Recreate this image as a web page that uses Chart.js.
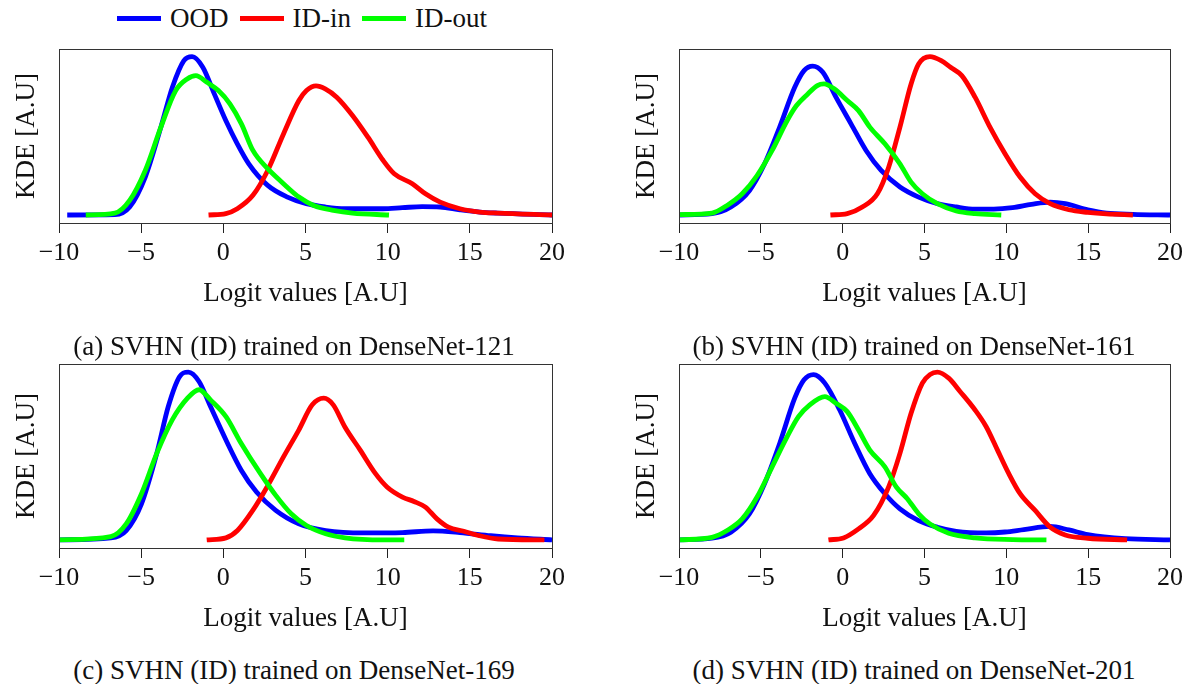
<!DOCTYPE html>
<html><head><meta charset="utf-8">
<script src="https://cdn.jsdelivr.net/npm/chart.js@4.4.1/dist/chart.umd.min.js"></script>
<style>
body{margin:0;background:#fff;width:1190px;height:684px;overflow:hidden;position:relative;font-family:'Liberation Serif',serif;color:#111}
canvas{position:absolute}
.cap{position:absolute;text-align:center;font-size:27px;line-height:30px;white-space:nowrap;width:600px}
#legend{position:absolute;left:117px;top:3px;display:flex;align-items:center;font-size:27px;line-height:30px;white-space:nowrap}
.sw{width:44px;height:5px;margin-right:9px}
.lt{margin-right:11px}
</style></head><body>
<div id="legend"></div>
<canvas id="ca" width="600" height="320" style="left:0;top:0"></canvas>
<canvas id="cb" width="570" height="320" style="left:620px;top:0"></canvas>
<canvas id="cc" width="600" height="330" style="left:0;top:315px"></canvas>
<canvas id="cd" width="570" height="330" style="left:620px;top:315px"></canvas>
<div class="cap" id="capa" style="left:-6px;top:331px"></div>
<div class="cap" id="capb" style="left:614px;top:331px"></div>
<div class="cap" id="capc" style="left:-6px;top:655px"></div>
<div class="cap" id="capd" style="left:614px;top:655px"></div>
<script>
const FONT = "'Liberation Serif', serif";
const xTickValues = [-10, -5, 0, 5, 10, 15, 20];
const xTickLabels = ['\u221210', '\u22125', '0', '5', '10', '15', '20'];
const seriesNames = ['OOD', 'ID-in', 'ID-out'];
const seriesColors = ['#0000ff', '#ff0000', '#00ff00'];
const xTitle = 'Logit values [A.U]';
const yTitle = 'KDE [A.U]';
const captions = [
  '(a) SVHN (ID) trained on DenseNet-121',
  '(b) SVHN (ID) trained on DenseNet-161',
  '(c) SVHN (ID) trained on DenseNet-169',
  '(d) SVHN (ID) trained on DenseNet-201'
];

// (a) DenseNet-121
const a_ood_x = [-9.5, -6.6, -5.7, -4.75, -3.8, -3.1, -2.4, -1.9, -1.25, -0.55, 0.15, 0.85, 1.55, 2.7, 3.9, 5.05, 6.2, 7.4, 9.7, 10.9, 12.1, 13.2, 14.4, 15.6, 16.7, 20];
const a_ood_y = [4.6, 4.8, 9.2, 26.4, 55.1, 78.0, 93.3, 95.6, 89.5, 74.2, 58.9, 45.5, 34.0, 21.6, 14.9, 11.1, 9.2, 8.2, 8.2, 8.8, 9.4, 9.2, 7.6, 6.3, 5.7, 4.6];
const a_in_x = [-0.9, 0.15, 0.85, 1.8, 2.7, 3.66, 4.6, 5.06, 5.64, 6.2, 6.9, 7.86, 8.8, 9.73, 10.4, 11.5, 12.3, 13.2, 14.4, 15.6, 16.7, 20];
const a_in_y = [4.6, 5.4, 8.2, 15.9, 30.2, 51.2, 70.4, 76.1, 78.8, 77.1, 72.3, 61.8, 49.3, 35.9, 28.3, 22.6, 16.8, 12.0, 8.2, 6.3, 5.7, 4.6];
const a_out_x = [-8.37, -6.6, -5.7, -4.75, -3.8, -2.9, -2.2, -1.67, -1.0, -0.3, 0.4, 1.1, 1.8, 2.7, 3.66, 4.6, 5.5, 6.7, 7.86, 10.08];
const a_out_y = [4.6, 5.7, 13.0, 30.2, 55.1, 76.1, 82.8, 84.7, 80.9, 76.1, 68.5, 57.0, 41.7, 31.2, 22.6, 14.9, 10.1, 7.3, 5.7, 4.6];

// (b) DenseNet-161
const b_ood_x = [-10, -7.98, -6.83, -5.69, -4.77, -3.85, -2.93, -2.36, -1.83, -1.21, -0.41, 0.51, 1.43, 2.35, 3.5, 4.64, 5.79, 6.94, 8.09, 9.23, 10.38, 11.53, 12.68, 13.6, 14.98, 16.12, 17.73, 20];
const b_ood_y = [4.6, 5.4, 9.2, 18.7, 34.0, 55.1, 78.0, 87.6, 90.2, 86.6, 72.3, 57.0, 41.7, 30.2, 20.7, 14.9, 11.1, 9.2, 8.0, 8.0, 8.8, 10.7, 12.0, 11.1, 7.6, 5.7, 5.0, 4.6];
const b_in_x = [-0.75, 0.28, 1.2, 2.12, 2.81, 3.5, 4.18, 4.64, 5.33, 6.02, 6.59, 7.28, 8.09, 9.0, 9.92, 10.84, 11.76, 12.68, 13.82, 14.97, 16.12, 17.73];
const b_in_y = [4.6, 5.4, 9.2, 16.8, 32.1, 55.1, 79.9, 91.4, 95.6, 93.3, 89.5, 84.7, 72.3, 55.1, 39.8, 26.4, 16.8, 11.1, 7.6, 6.1, 5.2, 4.6];
const b_out_x = [-10, -7.98, -7.06, -6.14, -5.23, -4.31, -3.39, -2.82, -2.13, -1.55, -1.14, -0.52, 0.28, 0.97, 1.66, 2.58, 3.5, 4.18, 4.87, 5.79, 6.94, 8.09, 9.69];
const b_out_y = [4.8, 5.7, 10.1, 16.8, 27.3, 41.7, 58.9, 67.5, 74.2, 79.0, 79.9, 77.1, 70.4, 64.6, 55.1, 45.5, 34.0, 23.5, 16.8, 11.1, 6.9, 5.4, 4.6];

// (c) DenseNet-169
const c_ood_x = [-10, -6.85, -5.91, -4.98, -4.05, -3.35, -2.65, -2.13, -1.48, -0.78, 0.16, 1.09, 2.02, 3.19, 4.59, 6.23, 8.56, 10.9, 12.76, 14.4, 16.27, 17.9, 20];
const c_ood_y = [4.4, 5.5, 9.5, 24.0, 51.4, 76.9, 93.3, 95.6, 90.5, 76.9, 58.7, 42.3, 30.4, 20.4, 13.1, 9.5, 8.2, 8.4, 9.3, 8.4, 6.7, 5.5, 4.4];
const c_in_x = [-1.01, 0.16, 0.86, 1.79, 2.72, 3.66, 4.59, 5.41, 6.11, 6.69, 7.39, 8.33, 9.26, 9.96, 10.9, 11.6, 12.3, 13.0, 13.7, 14.63, 15.57, 16.73, 19.54];
const c_in_y = [4.4, 5.5, 9.5, 20.4, 34.1, 49.5, 64.1, 77.8, 81.4, 77.8, 65.9, 53.2, 40.4, 33.2, 27.7, 25.3, 22.2, 15.8, 11.3, 9.1, 6.7, 4.9, 4.4];
const c_out_x = [-10, -6.85, -5.91, -4.98, -4.05, -3.11, -2.18, -1.48, -0.78, 0.16, 1.09, 2.26, 3.19, 4.13, 5.06, 6.23, 7.4, 9.73, 11.01];
const c_out_y = [4.4, 6.2, 13.1, 29.5, 51.4, 69.6, 81.4, 86.0, 80.5, 71.4, 56.8, 40.4, 28.6, 18.6, 12.2, 7.7, 5.5, 4.4, 4.4];

// (d) DenseNet-201
const d_ood_x = [-10, -7.98, -6.83, -5.69, -4.77, -3.85, -2.93, -2.36, -1.78, -1.09, -0.18, 0.74, 1.66, 2.58, 3.5, 4.64, 5.79, 6.94, 8.77, 9.92, 11.07, 12.68, 13.82, 14.98, 17.27, 20];
const d_ood_y = [4.4, 5.3, 8.6, 18.6, 35.0, 56.8, 81.4, 91.4, 94.2, 89.6, 75.0, 56.8, 40.4, 29.5, 21.3, 14.9, 11.3, 9.1, 8.2, 8.7, 10.0, 11.7, 9.8, 7.3, 5.1, 4.4];
const d_in_x = [-0.87, 0.05, 0.97, 1.89, 2.81, 3.5, 4.18, 4.87, 5.33, 5.79, 6.48, 7.17, 8.09, 8.77, 9.46, 10.15, 10.84, 11.76, 12.68, 13.6, 14.98, 17.38];
const d_in_y = [4.4, 5.5, 10.4, 17.7, 33.2, 51.4, 73.2, 89.6, 94.2, 95.6, 92.3, 85.1, 75.0, 65.9, 53.2, 40.4, 29.5, 20.4, 11.3, 7.1, 5.3, 4.4];
const d_out_x = [-10, -7.98, -7.06, -6.14, -5.23, -4.31, -3.39, -2.7, -2.01, -1.09, -0.41, 0.28, 0.97, 1.66, 2.58, 3.27, 3.95, 4.64, 5.33, 6.48, 8.09, 10.38, 12.45];
const d_out_y = [4.4, 5.8, 9.5, 15.8, 27.7, 44.1, 60.5, 71.4, 77.8, 82.3, 78.7, 74.1, 64.1, 53.2, 44.1, 33.2, 26.8, 18.6, 13.1, 8.0, 5.5, 4.6, 4.4];

function pts(xs, ys) { return xs.map((x, i) => ({ x: x, y: ys[i] })); }

const framePlugin = {
  id: 'frame',
  afterDatasetsDraw(chart) {
    const { ctx, chartArea } = chart;
    ctx.save();
    ctx.strokeStyle = '#333';
    ctx.lineWidth = 1;
    ctx.strokeRect(Math.round(chartArea.left) + 0.5, Math.round(chartArea.top) + 0.5,
      Math.round(chartArea.right - chartArea.left), Math.round(chartArea.bottom - chartArea.top));
    ctx.restore();
  }
};

function makeChart(id, sets, padTop, padRight) {
  return new Chart(document.getElementById(id), {
    type: 'line',
    data: {
      datasets: sets.map((s, i) => ({
        label: seriesNames[i],
        data: pts(s[0], s[1]),
        borderColor: seriesColors[i],
        backgroundColor: seriesColors[i],
        borderWidth: 4.8,
        pointRadius: 0,
        fill: false,
        cubicInterpolationMode: 'monotone',
        borderJoinStyle: 'round',
        order: 3 - i
      }))
    },
    options: {
      responsive: false, animation: false, devicePixelRatio: 1,
      layout: { padding: { top: padTop, right: padRight, left: 0, bottom: 0 } },
      plugins: { legend: { display: false }, tooltip: { enabled: false } },
      scales: {
        x: {
          type: 'linear', min: -10, max: 20,
          afterBuildTicks: s => { s.ticks = xTickValues.map(v => ({ value: v })); },
          ticks: { callback: (v, i) => xTickLabels[i], font: { family: FONT, size: 26, lineHeight: 1 }, color: '#111', padding: 7, maxRotation: 0, autoSkip: false },
          grid: { drawOnChartArea: false, drawTicks: true, tickLength: 10, color: '#222', lineWidth: 1 },
          border: { display: false },
          title: { display: true, text: xTitle, font: { family: FONT, size: 27, lineHeight: 1 }, color: '#111', padding: { top: 0, bottom: 13 } },
          afterFit: s => { s.height = 97; }
        },
        y: {
          min: 0, max: 100,
          ticks: { display: false },
          grid: { display: false },
          border: { display: false },
          title: { display: true, text: yTitle, font: { family: FONT, size: 27, lineHeight: 1 }, color: '#111', padding: { top: 13, bottom: 0 } },
          afterFit: s => { s.width = 59; }
        }
      }
    },
    plugins: [framePlugin]
  });
}

makeChart('ca', [[a_ood_x, a_ood_y], [a_in_x, a_in_y], [a_out_x, a_out_y]], 49, 48);
makeChart('cb', [[b_ood_x, b_ood_y], [b_in_x, b_in_y], [b_out_x, b_out_y]], 49, 18);
makeChart('cc', [[c_ood_x, c_ood_y], [c_in_x, c_in_y], [c_out_x, c_out_y]], 49, 48);
makeChart('cd', [[d_ood_x, d_ood_y], [d_in_x, d_in_y], [d_out_x, d_out_y]], 49, 18);

['capa', 'capb', 'capc', 'capd'].forEach((id, i) => { document.getElementById(id).textContent = captions[i]; });

const leg = document.getElementById('legend');
seriesNames.forEach((n, i) => {
  const sw = document.createElement('div'); sw.className = 'sw'; sw.style.background = seriesColors[i];
  const t = document.createElement('span'); t.className = 'lt'; t.textContent = n;
  leg.appendChild(sw); leg.appendChild(t);
});
</script>
</body></html>
